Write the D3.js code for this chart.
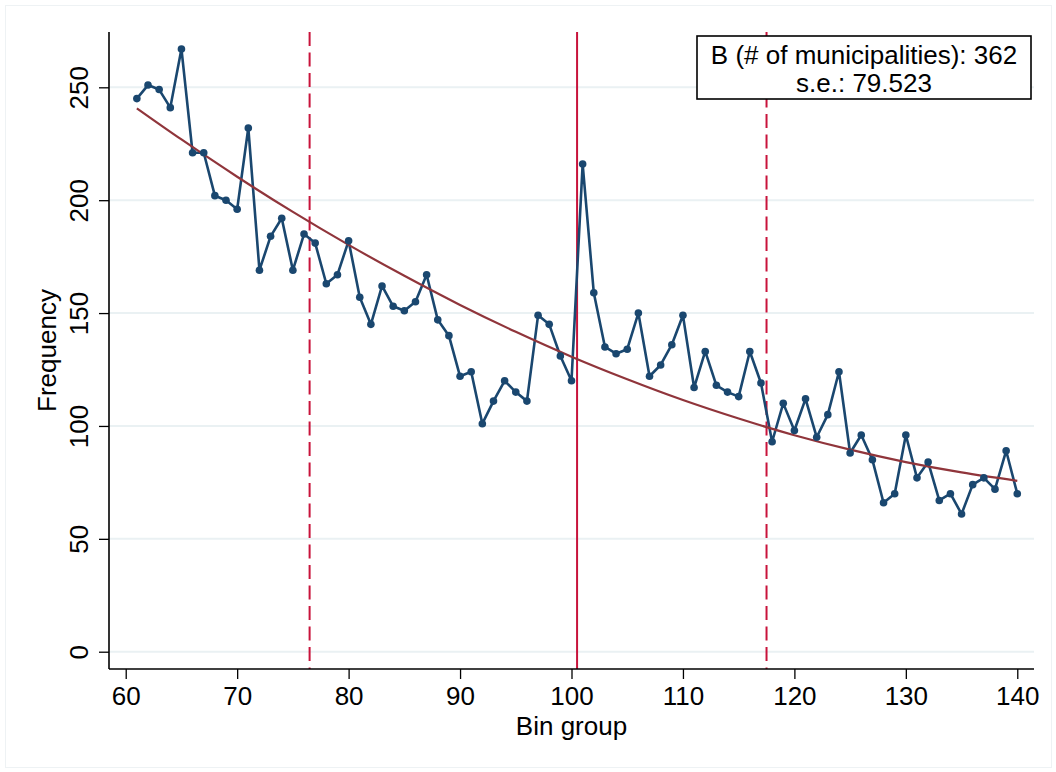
<!DOCTYPE html>
<html>
<head>
<meta charset="utf-8">
<script src="https://cdn.jsdelivr.net/npm/d3@7"></script>
<style>
  html, body { margin: 0; padding: 0; background: #fff; }
  svg { display: block; }
  text { font-family: "Liberation Sans", Arial, Helvetica, sans-serif; fill: #000; }
</style>
</head>
<body>
<svg id="chart" width="1056" height="772"></svg>
<script>
// ---- data ----
const binGroups = d3.range(61, 141);
const frequency = [
  245, 251, 249, 241, 267, 221, 221, 202, 200, 196,
  232, 169, 184, 192, 169, 185, 181, 163, 167, 182,
  157, 145, 162, 153, 151, 155, 167, 147, 140, 122,
  124, 101, 111, 120, 115, 111, 149, 145, 131, 120,
  216, 159, 135, 132, 134, 150, 122, 127, 136, 149,
  117, 133, 118, 115, 113, 133, 119, 93, 110, 98,
  112, 95, 105, 124, 88, 96, 85, 66, 70, 96,
  77, 84, 67, 70, 61, 74, 77, 72, 89, 70
];
const fitX = [61, 65, 70, 75, 80, 85, 90, 95, 100, 105, 110, 115, 120, 125, 130, 135, 140];
const fitY = [240.7, 226.9, 210.4, 194.8, 180.2, 166.5, 153.6, 141.7, 130.7, 120.7, 111.5, 103.3, 95.9, 89.5, 84.0, 79.4, 75.7];
const cutoff = 100.5;
const bandLines = [76.5, 117.5];
const xTicks = [60, 70, 80, 90, 100, 110, 120, 130, 140];
const yTicks = [0, 50, 100, 150, 200, 250];
const legendLines = ["B (# of municipalities): 362", "s.e.: 79.523"];

// ---- layout ----
const svg = d3.select("#chart");
const pL = 109, pR = 1034, pT = 32, pB = 669;
const x = d3.scaleLinear().domain([58.5, 141.5]).range([pL, pR]);
const y = d3.scaleLinear().domain([-7.66, 274.5]).range([pB, pT]);

// outer graph region frame
svg.append("rect").attr("x", 5.5).attr("y", 5.5).attr("width", 1046).attr("height", 762)
  .attr("fill", "none").attr("stroke", "#eef2f4").attr("stroke-width", 1);

// gridlines
svg.append("g").selectAll("line").data(yTicks).join("line")
  .attr("x1", pL).attr("x2", pR)
  .attr("y1", d => y(d)).attr("y2", d => y(d))
  .attr("stroke", "#eaf1f3").attr("stroke-width", 2);

// reference lines
const refColor = "#c8133b";
svg.append("line").attr("x1", x(cutoff)).attr("x2", x(cutoff)).attr("y1", pT).attr("y2", pB)
  .attr("stroke", refColor).attr("stroke-width", 2);
svg.append("g").selectAll("line").data(bandLines).join("line")
  .attr("x1", d => x(d)).attr("x2", d => x(d)).attr("y1", pT).attr("y2", pB)
  .attr("stroke", refColor).attr("stroke-width", 2).attr("stroke-dasharray", "14 6.5");

// data line + markers
const pts = binGroups.map((b, i) => [b, frequency[i]]);
svg.append("path").datum(pts)
  .attr("d", d3.line().x(d => x(d[0])).y(d => y(d[1])))
  .attr("fill", "none").attr("stroke", "#1a476f").attr("stroke-width", 2.6).attr("stroke-linejoin", "round");

// fit curve
const fitPts = fitX.map((v, i) => [v, fitY[i]]);
svg.append("path").datum(fitPts)
  .attr("d", d3.line().x(d => x(d[0])).y(d => y(d[1])).curve(d3.curveCatmullRom))
  .attr("fill", "none").attr("stroke", "#90353b").attr("stroke-width", 2.2);

svg.append("g").selectAll("circle").data(pts).join("circle")
  .attr("cx", d => x(d[0])).attr("cy", d => y(d[1])).attr("r", 3.8)
  .attr("fill", "#1a476f");

// axes
const fs = 26;
const xAxis = svg.append("g").attr("transform", `translate(0,${pB})`)
  .call(d3.axisBottom(x).tickValues(xTicks).tickSize(10).tickPadding(4).tickSizeOuter(0));
xAxis.select(".domain").attr("stroke", "#000").attr("stroke-width", 1.6)
  .attr("d", `M${pL},0H${pR}`);
xAxis.selectAll(".tick line").attr("stroke", "#000").attr("stroke-width", 1.3);
xAxis.selectAll(".tick text").attr("font-size", fs).attr("font-family", "Liberation Sans, Arial, sans-serif")
  .attr("fill", "#000").attr("dy", null).attr("y", 36);

const yAxis = svg.append("g").attr("transform", `translate(${pL},0)`)
  .call(d3.axisLeft(y).tickValues(yTicks).tickSize(10).tickSizeOuter(0));
yAxis.select(".domain").attr("stroke", "#000").attr("stroke-width", 1.6)
  .attr("d", `M0,${pT}V${pB}`);
yAxis.selectAll(".tick line").attr("stroke", "#000").attr("stroke-width", 1.3);
yAxis.selectAll(".tick text").attr("font-size", fs).attr("font-family", "Liberation Sans, Arial, sans-serif")
  .attr("fill", "#000").attr("text-anchor", "middle").attr("x", null).attr("dy", null)
  .attr("transform", "translate(-21,0) rotate(-90)");

// axis titles
svg.append("text").attr("x", (pL + pR) / 2).attr("y", 735)
  .attr("text-anchor", "middle").attr("font-size", fs).text("Bin group");
svg.append("text").attr("transform", `translate(56,${(pT + pB) / 2}) rotate(-90)`)
  .attr("text-anchor", "middle").attr("font-size", fs).text("Frequency");

// legend box
svg.append("rect").attr("x", 697).attr("y", 36).attr("width", 334).attr("height", 63)
  .attr("fill", "#fff").attr("stroke", "#000").attr("stroke-width", 1.6);
svg.append("text").attr("x", 864).attr("y", 64).attr("text-anchor", "middle")
  .attr("font-size", fs).text(legendLines[0]);
svg.append("text").attr("x", 864).attr("y", 92).attr("text-anchor", "middle")
  .attr("font-size", fs).text(legendLines[1]);
</script>
</body>
</html>
